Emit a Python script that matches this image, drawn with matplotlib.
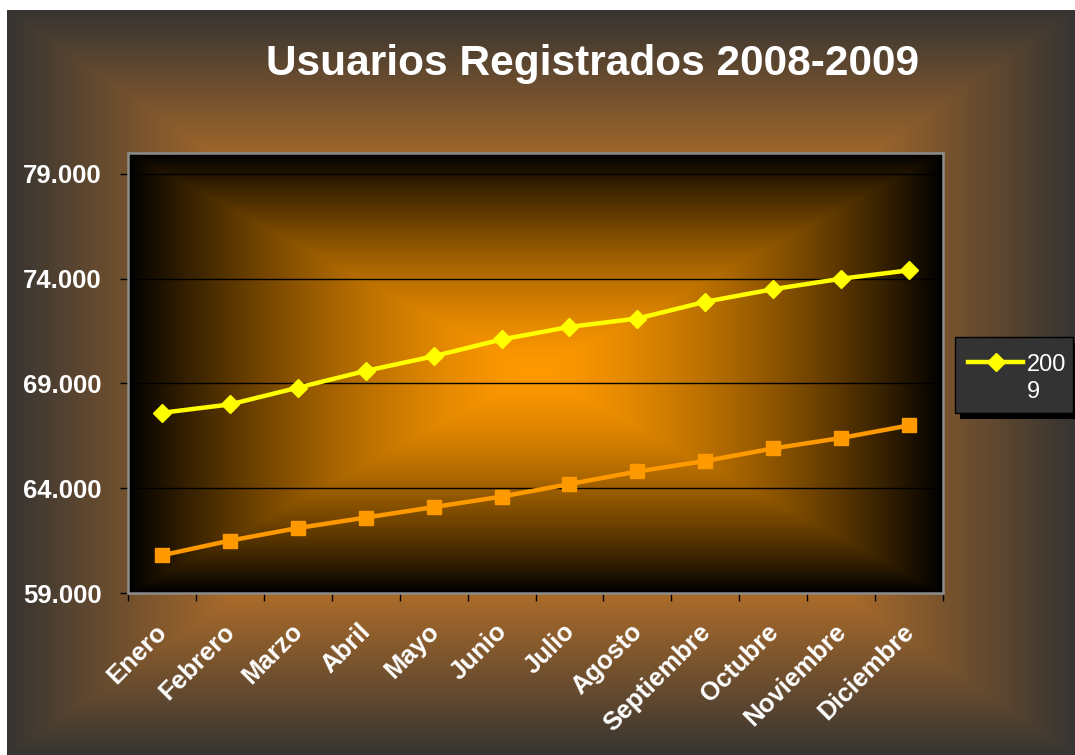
# Usuarios registrados 2008-2009 (linea por mes)
import numpy as np
import matplotlib.pyplot as plt
from matplotlib.lines import Line2D
from matplotlib.patches import Rectangle
from matplotlib.colors import to_rgb
from matplotlib.transforms import ScaledTranslation

meses = ['Enero', 'Febrero', 'Marzo', 'Abril', 'Mayo', 'Junio', 'Julio',
         'Agosto', 'Septiembre', 'Octubre', 'Noviembre', 'Diciembre']
usuarios_2009 = [67600, 68000, 68800, 69600, 70300, 71100,
                 71700, 72100, 72900, 73500, 74000, 74400]
usuarios_2008 = [60800, 61500, 62100, 62600, 63100, 63600,
                 64200, 64800, 65300, 65900, 66400, 67000]
marcas_y = [59000, 64000, 69000, 74000, 79000]

plt.rcParams['font.family'] = ['Liberation Sans', 'DejaVu Sans']

W, H = 1075, 755
fig = plt.figure(figsize=(W / 100, H / 100), dpi=100, facecolor='white')


def px(xp, yp):
    # pixeles (desde arriba a la izquierda) -> fraccion de figura
    return xp / W, 1 - yp / H


# Fondo del grafico (degradado rectangular, marron claro al centro)
bg = fig.add_axes([7 / W, 0, 1 - 7 / W, 1 - 10 / H], zorder=-10)
alto, ancho = 745, 1068
yy, xx = np.mgrid[0:alto, 0:ancho]
d = np.maximum(np.abs(xx - ancho / 2) / (ancho / 2), np.abs(yy - alto / 2) / (alto / 2))
t = np.clip((d - 0.55) / 0.45, 0, 1)[..., None]
img = np.array(to_rgb('#b06e2a')) * (1 - t) + np.array(to_rgb('#363432')) * t
bg.imshow(img, aspect='auto', interpolation='bilinear')
bg.axis('off')

# Area de trazado
ax = fig.add_axes([128 / W, 1 - 593 / H, (943 - 128) / W, (593 - 153) / H])
gy, gx = np.mgrid[-1:1:400j, -1:1:800j]
dd = np.maximum(np.abs(gx), np.abs(gy))
f = np.clip(1 - dd ** 1.5, 0, 1)[..., None]
ax.imshow(np.array(to_rgb('#ff9900')) * f, extent=[0, 1, 0, 1],
          transform=ax.transAxes, aspect='auto', zorder=0)

x = np.arange(len(meses))
ax.plot(x, usuarios_2008, color='#ff9900', lw=3.2, marker='s', ms=10, zorder=3)
ax.plot(x, usuarios_2009, color='#ffff00', lw=3.2, marker='D', ms=9, zorder=4)

ax.set_xlim(-0.5, len(meses) - 0.5)
ax.set_ylim(59000, 80000)
ax.set_yticks(marcas_y)
ax.set_yticklabels([f'{v:,}'.replace(',', '.') for v in marcas_y])
ax.yaxis.grid(True, color='black', lw=1)

ax.set_xticks(x)
ax.set_xticklabels(meses, rotation=45, ha='right', va='top', rotation_mode='anchor')
ax.set_xticks(np.arange(-0.5, len(meses)), minor=True)
ax.tick_params(axis='x', which='major', length=0, pad=19)
ax.tick_params(axis='x', which='minor', length=6, color='black', width=1)
ax.tick_params(axis='y', length=6, color='black', width=1, pad=13)
ax.tick_params(labelcolor='white', labelsize=18.5)
for lbl in ax.get_xticklabels() + ax.get_yticklabels():
    lbl.set_fontweight('bold')
# corrimiento de las etiquetas de meses un poco a la izquierda
desplaza = ScaledTranslation(-0.07, 0, fig.dpi_scale_trans)
for tick in ax.xaxis.get_major_ticks():
    tick.label1.set_transform(tick.label1.get_transform() + desplaza)
for s in ax.spines.values():
    s.set_color('#8c8c8c')
    s.set_linewidth(1.8)

fig.text(*px(593, 64), 'Usuarios Registrados 2008-2009',
         ha='center', va='center', fontsize=30.5, fontweight='bold', color='white')

# Leyenda (como en el original: solo 2009 y el texto partido)
sombra = Rectangle(px(960, 419), 118 / W, 76 / H, transform=fig.transFigure,
                   facecolor='black', edgecolor='none')
caja = Rectangle(px(955, 413), 118 / W, 76 / H, transform=fig.transFigure,
                 facecolor='#333333', edgecolor='black', lw=1)
fig.patches.extend([sombra, caja])
xs, ys = zip(px(968, 362), px(995.5, 362), px(1023, 362))
fig.add_artist(Line2D(xs, ys, transform=fig.transFigure, color='#ffff00', lw=3.2,
                      marker='D', ms=9, markevery=[1]))
fig.text(*px(1027, 371), '200', fontsize=17, color='white', va='baseline')
fig.text(*px(1027, 398), '9', fontsize=17, color='white', va='baseline')

fig.savefig('out.png', dpi=100)
